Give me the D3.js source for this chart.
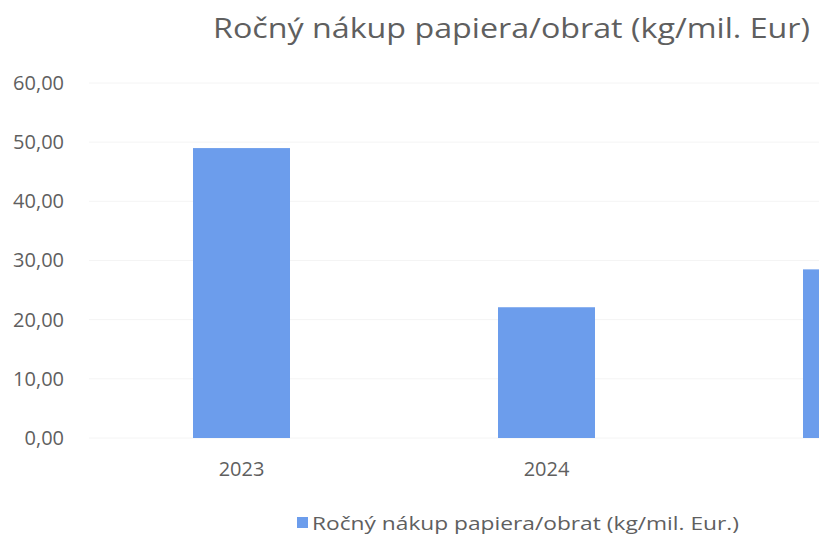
<!DOCTYPE html>
<html>
<head>
<meta charset="utf-8">
<script src="https://cdn.jsdelivr.net/npm/d3@7"></script>
<style>
  html, body { margin: 0; padding: 0; background: #fff; overflow: hidden; }
  svg { display: block; }
</style>
</head>
<body>
<svg id="chart" width="819" height="538"></svg>
<script>
// Annual paper purchase relative to turnover
const categories = ["2023", "2024", "2025"];
const values = [49.0, 22.1, 28.5];
const yTicks = [0, 10, 20, 30, 40, 50, 60];
const title = "Ročný nákup papiera/obrat (kg/mil. Eur)";
const seriesName = "Ročný nákup papiera/obrat (kg/mil. Eur.)";

const W = 819;
const svg = d3.select("#chart");
const barColor = "#6c9dec";
const textColor = "#5f5f5f";
const font = "'Open Sans', sans-serif";

const x = d3.scaleBand()
  .domain(categories)
  .range([89, 1004])
  .paddingInner(0.682)
  .paddingOuter(0.341);

const y = d3.scaleLinear()
  .domain([0, 60])
  .range([438, 83]);

// Faint horizontal gridlines
svg.append("g")
  .selectAll("line")
  .data(yTicks)
  .join("line")
  .attr("x1", 89)
  .attr("x2", 1004)
  .attr("y1", d => y(d))
  .attr("y2", d => y(d))
  .attr("stroke", "#f4f4f4")
  .attr("stroke-width", 1);

// Y axis labels
const fmt = d => d3.format(".2f")(d).replace(".", ",");
const yAxis = d3.axisLeft(y).tickValues(yTicks).tickFormat(fmt).tickSize(0).tickPadding(0);
svg.append("g")
  .attr("transform", "translate(64,0)")
  .call(yAxis)
  .call(g => g.select(".domain").remove())
  .call(g => g.selectAll("text")
    .attr("fill", textColor)
    .style("font-family", font)
    .style("font-size", "20px"));

// Bars (the plot runs past the right edge of the page)
svg.append("g")
  .selectAll("rect")
  .data(values)
  .join("rect")
  .attr("x", (d, i) => x(categories[i]))
  .attr("width", x.bandwidth())
  .attr("y", d => y(d))
  .attr("height", d => y(0) - y(d))
  .attr("fill", barColor);

// X axis labels; only those whose tick falls inside the page are drawn
const xAxis = d3.axisBottom(x)
  .tickValues(categories.filter(c => x(c) + x.bandwidth() / 2 + 25 < W))
  .tickSize(0).tickPadding(0);
svg.append("g")
  .attr("transform", "translate(0,462)")
  .call(xAxis)
  .call(g => g.select(".domain").remove())
  .call(g => g.selectAll("text")
    .attr("fill", textColor)
    .style("font-family", font)
    .style("font-size", "20px"));

// Title
svg.append("text")
  .attr("x", 213)
  .attr("y", 38)
  .attr("fill", textColor)
  .style("font-family", font)
  .style("font-size", "28px")
  .attr("textLength", 597)
  .attr("lengthAdjust", "spacingAndGlyphs")
  .text(title);

// Legend
const legend = svg.append("g").attr("transform", "translate(297,517)");
legend.append("rect")
  .attr("width", 11)
  .attr("height", 11)
  .attr("fill", barColor);
legend.append("text")
  .attr("x", 15)
  .attr("y", 13)
  .attr("fill", textColor)
  .style("font-family", font)
  .style("font-size", "18px")
  .attr("textLength", 427)
  .attr("lengthAdjust", "spacingAndGlyphs")
  .text(seriesName);
</script>
</body>
</html>
